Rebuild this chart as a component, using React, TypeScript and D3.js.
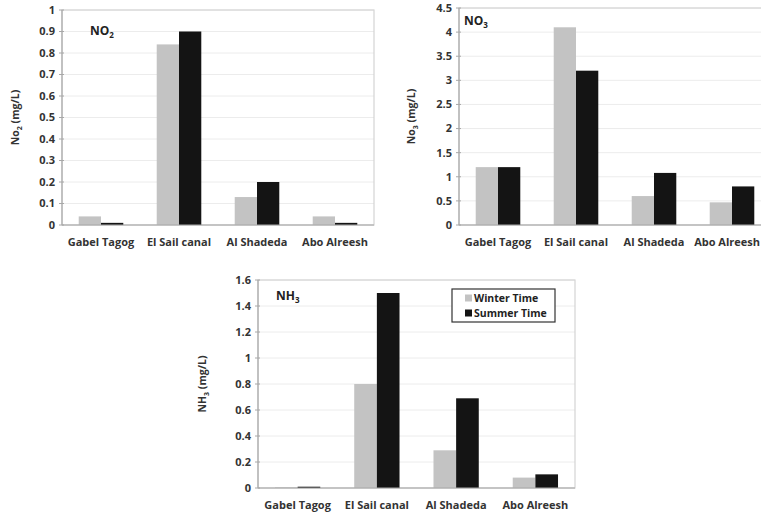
import React from "react";
import * as d3 from "d3";

const sites = ["Gabel Tagog", "El Sail canal", "Al Shadeda", "Abo Alreesh"];
const seriesNames = ["Winter Time", "Summer Time"];
const seriesColors = ["#c3c3c3", "#141414"];

const no2Winter = [0.04, 0.84, 0.13, 0.04];
const no2Summer = [0.01, 0.9, 0.2, 0.01];
const no2Ticks = [0, 0.1, 0.2, 0.3, 0.4, 0.5, 0.6, 0.7, 0.8, 0.9, 1];

const no3Winter = [1.2, 4.1, 0.6, 0.47];
const no3Summer = [1.2, 3.2, 1.08, 0.8];
const no3Ticks = [0, 0.5, 1, 1.5, 2, 2.5, 3, 3.5, 4, 4.5];

const nh3Winter = [0.005, 0.8, 0.29, 0.08];
const nh3Summer = [0.01, 1.5, 0.69, 0.105];
const nh3Ticks = [0, 0.2, 0.4, 0.6, 0.8, 1, 1.2, 1.4, 1.6];

const FONT = "'Open Sans', Lato, sans-serif";
const W = 761;

type PanelProps = {
  left: number; right: number; top: number; bottom: number;
  winter: number[]; summer: number[]; ticks: number[];
  title: [string, string]; yLabel: [string, string, string];
  titleX: number; titleY: number; yLabelX: number;
  legend?: boolean;
};

function Panel(p: PanelProps) {
  const x = d3.scaleBand<string>().domain(sites).range([p.left, p.right]).padding(0);
  const yMax = p.ticks[p.ticks.length - 1];
  const y = d3.scaleLinear().domain([0, yMax]).range([p.bottom, p.top]);
  const inner = d3.scaleBand<number>().domain([0, 1])
    .range([0, x.bandwidth()]).paddingOuter(0.75).paddingInner(0);
  const series = [p.winter, p.summer];
  const fmt = (v: number) => String(+v.toFixed(2));
  const midY = (p.top + p.bottom) / 2;
  return (
    <g>
      {p.ticks.map((t) => (
        <line key={"g" + t} x1={p.left} x2={p.right} y1={y(t)} y2={y(t)} stroke="#ececec" strokeWidth={1} />
      ))}
      <rect x={p.left} y={p.top} width={p.right - p.left} height={p.bottom - p.top} fill="none" stroke="#d4d4d4" strokeWidth={1.2} />
      {series.map((vals, si) =>
        vals.map((v, i) => (
          <rect key={si + "-" + i}
            x={(x(sites[i]) as number) + (inner(si) as number)}
            y={y(v)} width={inner.bandwidth()} height={p.bottom - y(v)}
            fill={seriesColors[si]} />
        ))
      )}
      <line x1={p.left} x2={p.right} y1={p.bottom} y2={p.bottom} stroke="#a8a8a8" strokeWidth={1.2} />
      <line x1={p.left} x2={p.left} y1={p.top} y2={p.bottom} stroke="#a8a8a8" strokeWidth={1.2} />
      {p.ticks.map((t) => (
        <g key={"t" + t}>
          <line x1={p.left - 3} x2={p.left + 2} y1={y(t)} y2={y(t)} stroke="#a8a8a8" strokeWidth={1} />
          <text x={p.left - 7} y={y(t)} dy="0.35em" textAnchor="end" fontSize={11} fontWeight={700} fill="#333" fontFamily={FONT}>{fmt(t)}</text>
        </g>
      ))}
      {sites.map((s) => {
        const cx = (x(s) as number) + x.bandwidth() / 2;
        const overflow = cx + 36 > W;
        return (
          <text key={s} x={overflow ? W - 1 : cx} y={p.bottom + 21} textAnchor={overflow ? "end" : "middle"} fontSize={11} fontWeight={700} fill="#333" fontFamily={FONT}>{s}</text>
        );
      })}
      <text x={p.titleX} y={p.titleY} fontSize={12} fontWeight={700} fill="#222" fontFamily={FONT}>
        {p.title[0]}<tspan fontSize={8} dy={3}>{p.title[1]}</tspan>
      </text>
      <text transform={`translate(${p.yLabelX},${midY}) rotate(-90)`} textAnchor="middle" fontSize={10.5} fontWeight={700} fill="#333" fontFamily={FONT}>
        {p.yLabel[0]}<tspan fontSize={7} dy={2.5}>{p.yLabel[1]}</tspan><tspan dy={-2.5}>{p.yLabel[2]}</tspan>
      </text>
      {p.legend && (
        <g>
          <rect x={452} y={289} width={103} height={33} fill="#fff" stroke="#333" strokeWidth={1.2} />
          {seriesNames.map((n, i) => (
            <g key={n}>
              <rect x={465} y={294.5 + i * 15} width={7} height={7} fill={seriesColors[i]} />
              <text x={474} y={302 + i * 15} fontSize={10.5} fontWeight={700} fill="#222" fontFamily={FONT}>{n}</text>
            </g>
          ))}
        </g>
      )}
    </g>
  );
}

export default function App() {
  return (
    <svg width={W} height={514} style={{ position: "fixed", left: 0, top: 0, background: "#fff" }}>
      <rect width={W} height={514} fill="#fff" />
      <Panel left={62} right={374} top={10} bottom={225} winter={no2Winter} summer={no2Summer} ticks={no2Ticks}
        title={["NO", "2"]} yLabel={["No", "2", " (mg/L)"]} titleX={90} titleY={35} yLabelX={19} />
      <Panel left={459} right={771} top={8} bottom={225} winter={no3Winter} summer={no3Summer} ticks={no3Ticks}
        title={["NO", "3"]} yLabel={["No", "3", " (mg/L)"]} titleX={464} titleY={25} yLabelX={415} />
      <Panel left={258} right={575} top={280} bottom={488} winter={nh3Winter} summer={nh3Summer} ticks={nh3Ticks}
        title={["NH", "3"]} yLabel={["NH", "3", " (mg/L)"]} titleX={276} titleY={300} yLabelX={206} legend />
    </svg>
  );
}
